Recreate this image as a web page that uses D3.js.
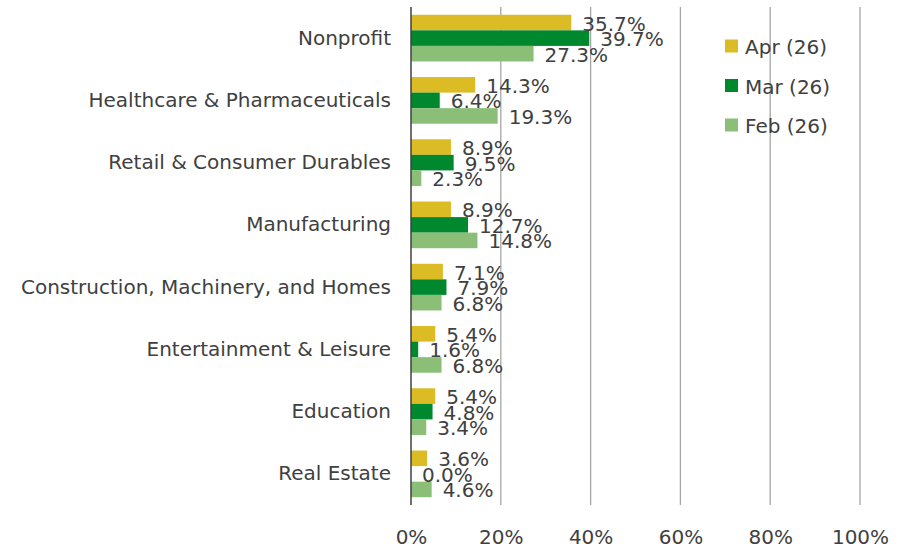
<!DOCTYPE html>
<html><head><meta charset="utf-8">
<script src="https://cdn.jsdelivr.net/npm/d3@7"></script>
<style>
html,body{margin:0;padding:0;background:#fff;}
svg text{font-family:"DejaVu Sans",Verdana,sans-serif;fill:#404040;}
</style></head>
<body><svg id="chart" width="913" height="549"></svg>
<script>
const categories = ["Nonprofit","Healthcare & Pharmaceuticals","Retail & Consumer Durables","Manufacturing","Construction, Machinery, and Homes","Entertainment & Leisure","Education","Real Estate"];
const seriesNames = ["Apr (26)","Mar (26)","Feb (26)"];
const aprValues = [35.7,14.3,8.9,8.9,7.1,5.4,5.4,3.6];
const marValues = [39.7,6.4,9.5,12.7,7.9,1.6,4.8,0.0];
const febValues = [27.3,19.3,2.3,14.8,6.8,6.8,3.4,4.6];
const tickValues = [0,20,40,60,80,100];
const colors = ["#dcbc24","#00882e","#8bbf78"];

const series = [aprValues, marValues, febValues];
const svg = d3.select("#chart");
const m = {left:411, right:860, top:7, bottom:505};

const x = d3.scaleLinear().domain([0,100]).range([m.left, m.right]);
const y = d3.scaleBand().domain(categories).range([m.top, m.bottom]).paddingInner(0.25).paddingOuter(0.125);
const ySub = d3.scaleBand().domain(seriesNames).range([0, y.bandwidth()]);

// gridlines
svg.append("g").selectAll("line").data(tickValues.filter(d=>d>0)).join("line")
  .attr("x1",d=>x(d)).attr("x2",d=>x(d)).attr("y1",m.top).attr("y2",m.bottom)
  .attr("stroke","#a6a6a6").attr("stroke-width",1.3);

// bars
const groups = svg.append("g").selectAll("g").data(categories).join("g")
  .attr("transform",c=>`translate(0,${y(c)})`);
groups.each(function(c,i){
  const g = d3.select(this);
  seriesNames.forEach((s,j)=>{
    g.append("rect").attr("x",x(0)).attr("y",ySub(s))
      .attr("width",x(series[j][i])-x(0)).attr("height",ySub.bandwidth())
      .attr("fill",colors[j]);
  });
});

// axis line
svg.append("line").attr("x1",x(0)).attr("x2",x(0)).attr("y1",m.top).attr("y2",m.bottom)
  .attr("stroke","#404040").attr("stroke-width",1.5);

// data labels
groups.each(function(c,i){
  const g = d3.select(this);
  seriesNames.forEach((s,j)=>{
    g.append("text").attr("x",x(series[j][i])+11).attr("y",ySub(s)+ySub.bandwidth()/2+1)
      .attr("dominant-baseline","central").attr("font-size",20)
      .text(series[j][i].toFixed(1)+"%");
  });
});

// category axis labels
const yAxis = d3.axisLeft(y).tickSize(0).tickPadding(20);
const ya = svg.append("g").attr("transform",`translate(${x(0)},0)`).call(yAxis);
ya.select(".domain").remove();
ya.selectAll("text").attr("font-size",20).attr("font-family",null).style("fill","#404040");

// x axis
const xAxis = d3.axisBottom(x).tickValues(tickValues).tickFormat(d=>d+"%").tickSize(0).tickPadding(25);
const xa = svg.append("g").attr("transform",`translate(0,${m.bottom})`).call(xAxis);
xa.select(".domain").remove();
xa.selectAll("text").attr("font-size",20).attr("font-family",null).style("fill","#404040");

// legend
const leg = svg.append("g").selectAll("g").data(seriesNames).join("g")
  .attr("transform",(d,i)=>`translate(725,${46+i*39.5})`);
leg.append("rect").attr("x",0).attr("y",-6.5).attr("width",13).attr("height",13).attr("fill",(d,i)=>colors[i]);
leg.append("text").attr("x",20).attr("y",1).attr("dominant-baseline","central").attr("font-size",20).text(d=>d);
</script></body></html>
